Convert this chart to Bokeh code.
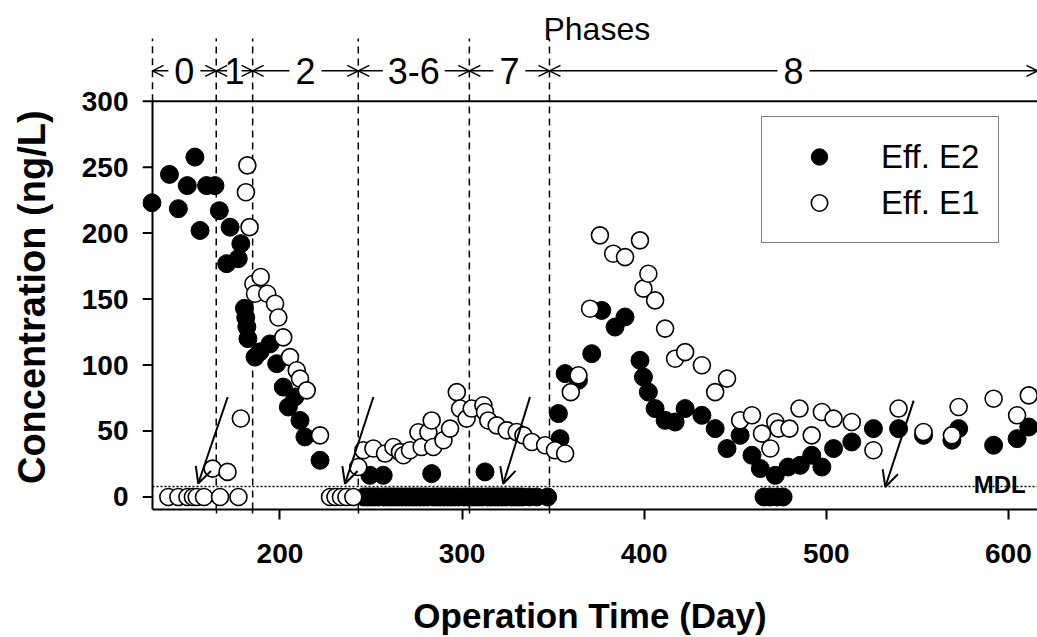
from bokeh.plotting import figure
from bokeh.models import (Range1d, Arrow, OpenHead, Label, Legend, LegendItem,
                          FixedTicker, ColumnDataSource)
from bokeh.core.properties import value
from bokeh.embed import file_html
from bokeh.resources import INLINE

# ---------------- data ----------------
# Effluent E2 (filled markers): operation day and concentration (ng/L)
e2_day = [129.7, 139.3, 144.2, 149.1, 153.3, 156.1, 159.7, 164.3, 166.7, 170.7, 172.6, 177.1, 178.5,
          180.5, 181.2, 181.8, 182.4, 186.3, 189.0, 194.5, 198.2, 201.8, 204.6, 208.2, 211.0, 213.7, 222.0,
          246, 248, 250, 252, 254, 257, 259, 261, 263, 265, 267, 269, 271, 273, 275, 277, 279, 281,
          284, 286, 288, 290, 292, 294, 296, 298, 301, 303, 305, 307, 309, 311, 314, 316, 318, 320,
          322, 324, 327, 329, 331, 333, 337, 341, 347,
          249.4, 256.7, 283.3, 312.6,
          352.9, 353.8, 356.6, 363.9, 371.2, 376.7, 384.0, 389.5, 397.7, 399.6, 402.3, 406.0, 411.5,
          417.0, 422.5, 431.7, 439.0, 445.5, 452.7, 459.2, 463.8, 465.8, 469.1, 473.0, 476.3, 472.0,
          479.0, 485.7, 492.0, 497.6, 504.0, 514.0, 525.9, 539.7, 553.4, 569.0, 572.7, 591.9, 604.8, 611.2]
e2_conc = [223, 244.5, 218.5, 236, 257.6, 202, 236, 236, 217, 176.8, 204.5, 180.6, 192,
           143, 136, 129, 120, 106, 110, 116, 101, 83.3, 68.2, 75.8, 58, 45.5, 27.8,
           0, 0, 0, 0, 0, 0, 0, 0, 0, 0, 0, 0, 0, 0, 0, 0, 0, 0,
           0, 0, 0, 0, 0, 0, 0, 0, 0, 0, 0, 0, 0, 0, 0, 0, 0, 0,
           0, 0, 0, 0, 0, 0, 0, 0, 0,
           16.4, 16.4, 17.7, 19,
           63.2, 44.2, 93.5, 88.4, 108.6, 141.4, 128.8, 136.4, 103.6, 90.9, 79.5, 67, 58.1,
           56.8, 67, 61.9, 51.8, 36.7, 46.7, 31.6, 21.5, 0, 0, 0, 0, 16.4,
           22.7, 24, 31.6, 22.7, 36.7, 41.7, 51.8, 51.8, 46.7, 43, 51.8, 39.2, 44.2, 53]

# Effluent E1 (open markers)
e1_day = [138.7, 144.2, 149.2, 152.2, 154.3, 158.3, 167.1, 177.2,
          163.0, 171.2, 178.5, 182.1, 181.3, 183.3,
          185.4, 186.3, 189.4, 193.0, 197.3, 199.1, 201.8, 205.5, 209.2, 211.0, 214.7, 222.0,
          227.5, 230.5, 233.5, 236.5, 240.3, 243.0,
          245.8, 251.3, 257.7, 262.3, 265.9, 267.8, 271.4, 276.0, 277.8, 281.5, 283.3, 284.2, 289.8,
          293.4, 297.1, 298.9, 302.5, 305.3, 311.7, 312.6, 314.4, 319.0, 324.5, 330.0, 333.7, 338.3,
          345.6, 351.0, 356.6,
          359.7, 363.9, 370.3, 375.7, 383.0, 389.5, 397.7, 399.6, 402.3, 406.0, 411.5, 417.0, 422.5,
          431.7, 439.0, 445.5, 452.7, 459.2, 464.7, 469.3, 472.0, 473.8, 479.8, 485.3, 492.0, 497.6,
          504.0, 514.0, 525.9, 539.7, 553.4, 569.0, 572.7, 591.9, 604.8, 611.2]
e1_conc = [0, 0, 0, 0, 0, 0, 0, 0,
           21.5, 19, 59.5, 251.3, 231, 204.5,
           161.6, 154, 166.7, 154, 146.5, 136, 121, 106, 96, 89.7, 80.8, 46.7,
           0, 0, 0, 0, 0, 22.7,
           35.4, 36.7, 32.9, 37.9, 34, 31.6, 35.4, 49, 37.9, 49, 58, 37.9, 43,
           51.8, 79.5, 67, 59.4, 67, 69.5, 64.4, 58, 54.3, 50.5, 49.2, 46.7, 41.7,
           39.2, 35.4, 32.9,
           79.5, 92.2, 142.7, 198.3, 184.4, 181.8, 194.5, 157.9, 169.2, 149, 127.6, 104.8, 109.8,
           99.8, 79.5, 89.7, 58.1, 61.9, 48, 36.7, 56.8, 51.8, 51.8, 67, 46.7, 64.4,
           59.4, 56.8, 35.4, 67, 49.2, 46.7, 68.2, 74.5, 61.9, 77]

# Operational phases: start day of each phase and its name
phase_start = [130, 165, 185, 243, 304, 348]
phase_names = ["0", "1", "2", "3-6", "7", "8"]
day_end = 616

# Method detection limit (ng/L)
mdl = 8

# Annotated arrows (tail day, tail conc, tip day, tip conc)
arrow_tail_day = [171.3, 251.3, 337.3, 548.0]
arrow_tail_conc = [75.8, 75.8, 75.8, 73.0]
arrow_tip_day = [155.1, 235.7, 322.6, 532.4]
arrow_tip_conc = [10.2, 10.0, 10.0, 7.6]

y_ticks = [0, 50, 100, 150, 200, 250, 300]
x_ticks = [200, 300, 400, 500, 600]

# ---------------- layout constants ----------------
Y_LO, Y_TOP_AXIS, Y_HI = -9.5, 300, 376.3
PHASE_LINE_TOP = 347.5
PHASE_TEXT_Y = 323
FONT = "Liberation Sans"
PX_PER_DAY = 885 / (day_end - phase_start[0])
TICK_PX = 10
X_LO = phase_start[0] - TICK_PX / PX_PER_DAY   # room for the y ticks inside the frame

p = figure(width=1037, height=637, output_backend="svg", toolbar_location=None,
           x_range=Range1d(X_LO, day_end), y_range=Range1d(Y_LO, Y_HI),
           min_border_left=142, min_border_right=0, min_border_top=0, min_border_bottom=128)
p.outline_line_color = None
p.xgrid.visible = False
p.ygrid.visible = False

# axes
for ax in (p.xaxis[0], p.yaxis[0]):
    ax.axis_line_width = 2
    ax.major_tick_line_width = 2
    ax.major_tick_in = 0
    ax.major_tick_out = TICK_PX
    ax.major_label_text_font = FONT
    ax.major_label_text_font_style = "bold"
    ax.major_label_text_font_size = "28px"
    ax.major_label_text_color = "black"
    ax.axis_label_text_font = FONT
    ax.axis_label_text_font_style = "bold"
    ax.axis_label_text_color = "black"

p.xaxis.ticker = FixedTicker(ticks=x_ticks, minor_ticks=phase_start[1:])
p.xaxis.bounds = (phase_start[0], day_end)
p.xaxis.minor_tick_in = 0
p.xaxis.minor_tick_out = 4
p.xaxis.minor_tick_line_width = 1.5
p.xaxis.major_label_standoff = 24
p.xaxis.axis_label = "Operation Time (Day)"
p.xaxis.axis_label_text_font_size = "35px"
p.xaxis.axis_label_standoff = 30

# y axis: labels from the axis model, line and ticks drawn at day 130 so that
# markers sitting on the axis are shown whole
p.yaxis.ticker = FixedTicker(ticks=y_ticks, minor_ticks=[])
p.yaxis.axis_line_color = None
p.yaxis.major_tick_out = 0
p.yaxis.major_tick_line_color = None
p.yaxis.major_label_standoff = 14
# trailing no-break spaces centre the title on the 0-300 span instead of the whole frame
p.yaxis.axis_label = "Concentration (ng/L)" + "\u00a0" * 8
p.yaxis.axis_label_text_font_size = "38px"
p.yaxis.axis_label_standoff = 26

p.segment(x0=[phase_start[0]], y0=[Y_LO], x1=[phase_start[0]], y1=[Y_TOP_AXIS],
          line_color="black", line_width=2)
p.segment(x0=[X_LO] * len(y_ticks), y0=y_ticks, x1=[phase_start[0]] * len(y_ticks), y1=y_ticks,
          line_color="black", line_width=2)

# top border at 300 and the detection limit line
p.segment(x0=[phase_start[0]], y0=[Y_TOP_AXIS], x1=[day_end], y1=[Y_TOP_AXIS],
          line_color="black", line_width=2)
p.segment(x0=[phase_start[0]], y0=[mdl], x1=[day_end], y1=[mdl],
          line_color="black", line_width=1.5, line_dash="2 2")
p.add_layout(Label(x=day_end - 6.5, y=mdl, y_offset=2, text="MDL", text_align="right",
                   text_baseline="alphabetic", text_font=FONT, text_font_style="bold",
                   text_font_size="24px", text_color="black"))

# phase boundaries
seg_y0 = [Y_TOP_AXIS if d == phase_start[0] else Y_LO for d in phase_start]
p.segment(x0=phase_start, y0=seg_y0, x1=phase_start, y1=[PHASE_LINE_TOP] * len(phase_start),
          line_color="black", line_width=1.5, line_dash="7 5")

phase_end = phase_start[1:] + [day_end]
phase_mid = [(a + b) / 2 for a, b in zip(phase_start, phase_end)]
p.text(x=phase_mid, y=[PHASE_TEXT_Y] * len(phase_mid), text=phase_names,
       text_align="center", text_baseline="middle", text_font=value(FONT),
       text_font_size="36px", text_color="black")

head_days = 11 / PX_PER_DAY
ax0, ax1 = [], []
for a, b, m, name in zip(phase_start, phase_end, phase_mid, phase_names):
    half = (len(name) * 7.5 + 8.5) / PX_PER_DAY
    left_tail = max(m - half, a + head_days)
    right_tail = min(m + half, b - head_days)
    ax0 += [left_tail, right_tail]
    ax1 += [a, b]
phase_arrows = ColumnDataSource(dict(x0=ax0, x1=ax1, y=[PHASE_TEXT_Y] * len(ax0)))
p.add_layout(Arrow(source=phase_arrows, x_start="x0", y_start="y", x_end="x1", y_end="y",
                   line_color="black", line_width=1.5,
                   end=OpenHead(size=11, line_width=1.5, line_color="black")))

p.add_layout(Label(x=374, y=355, text="Phases", text_align="center", text_baseline="middle",
                   text_font=FONT, text_font_size="32px", text_color="black"))

# data
r_e2 = p.scatter(e2_day, e2_conc, size=18, marker="circle", fill_color="black",
                 line_color="black", line_width=1)
r_e1 = p.scatter(e1_day, e1_conc, size=17, marker="circle", fill_color="white",
                 line_color="black", line_width=1.6)

# pointing arrows
arrows = ColumnDataSource(dict(x0=arrow_tail_day, y0=arrow_tail_conc,
                               x1=arrow_tip_day, y1=arrow_tip_conc))
p.add_layout(Arrow(source=arrows, x_start="x0", y_start="y0", x_end="x1", y_end="y1",
                   line_color="black", line_width=2,
                   end=OpenHead(size=16, line_width=2, line_color="black")))

legend = Legend(items=[LegendItem(label="Eff. E2", renderers=[r_e2]),
                       LegendItem(label="Eff. E1", renderers=[r_e1])],
                location=(619, 266), orientation="vertical",
                label_text_font=FONT, label_text_font_size="33px", label_text_color="black",
                border_line_color="black", border_line_width=1.5,
                background_fill_color="white", background_fill_alpha=1,
                padding=19, spacing=5, margin=0,
                glyph_width=76, glyph_height=41, label_height=41, label_standoff=24)
p.add_layout(legend)

open("out.html", "w").write(file_html(p, INLINE))
